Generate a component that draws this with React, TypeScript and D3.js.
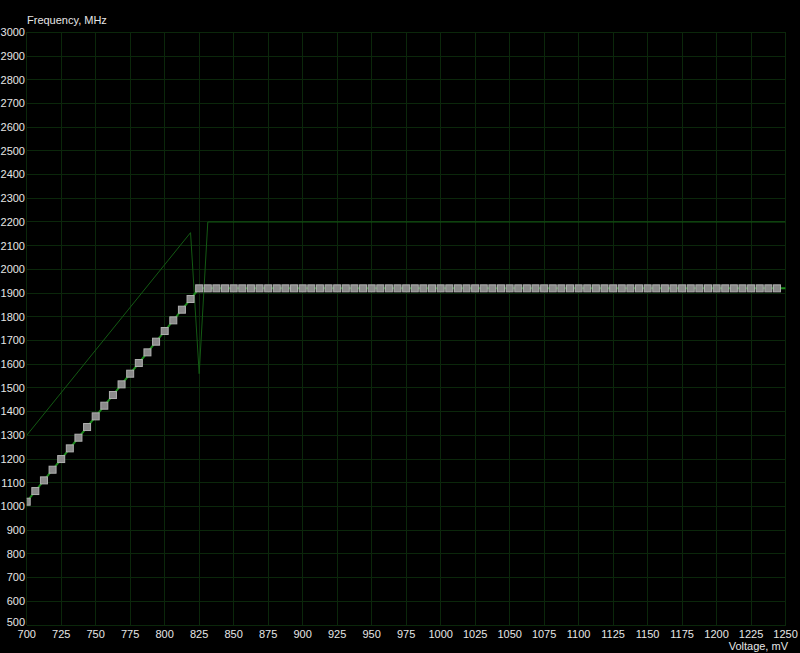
import React from "react";
import * as d3 from "d3";

// Voltage points (mV) of the curve — 6.25 mV steps
const risingVoltages = [700, 706.25, 712.5, 718.75, 725, 731.25, 737.5, 743.75, 750, 756.25, 762.5, 768.75, 775, 781.25, 787.5, 793.75, 800, 806.25, 812.5, 818.75];
const risingFreqs = [1020, 1065, 1110, 1155, 1200, 1245, 1290, 1335, 1380, 1425, 1470, 1515, 1560, 1605, 1650, 1695, 1740, 1785, 1830, 1875];
const flatStart = 825;
const flatEnd = 1243.75;
const flatFreq = 1920;
const lineEnd = 1250;

// Thin reference curve (dark green)
const refVoltages = [700, 818.75, 825, 831.25, 1250];
const refFreqs = [1300, 2155, 1560, 2200, 2200];

const xTicks = [700, 725, 750, 775, 800, 825, 850, 875, 900, 925, 950, 975, 1000, 1025, 1050, 1075, 1100, 1125, 1150, 1175, 1200, 1225, 1250];
const yTicks = [500, 600, 700, 800, 900, 1000, 1100, 1200, 1300, 1400, 1500, 1600, 1700, 1800, 1900, 2000, 2100, 2200, 2300, 2400, 2500, 2600, 2700, 2800, 2900, 3000];

export default function App() {
  const W = 800, H = 653;
  const left = 26.7, right = 785.6, top = 32.3, bottom = 625;
  const x = d3.scaleLinear().domain([700, 1250]).range([left, right]);
  const y = d3.scaleLinear().domain([500, 3000]).range([bottom, top]);

  const flatVoltages: number[] = [];
  for (let v = flatStart; v <= flatEnd + 0.001; v += 6.25) flatVoltages.push(v);

  const pts: [number, number][] = [
    ...risingVoltages.map((v, i) => [v, risingFreqs[i]] as [number, number]),
    ...flatVoltages.map((v) => [v, flatFreq] as [number, number]),
  ];
  const linePts: [number, number][] = [...pts, [lineEnd, flatFreq]];
  const line = d3.line<[number, number]>().x((d) => x(d[0])).y((d) => y(d[1]));
  const refPts = refVoltages.map((v, i) => [v, refFreqs[i]] as [number, number]);

  const font = "'Liberation Sans', Arial, sans-serif";
  const textColor = "#e6e6e6";

  return (
    <svg width={W} height={H} style={{ position: "absolute", left: 0, top: 0, background: "#000" }}>
      <rect x={0} y={0} width={W} height={H} fill="#000" />
      <defs>
        <clipPath id="plot">
          <rect x={left} y={top} width={right - left} height={bottom - top} />
        </clipPath>
      </defs>
      <g stroke="#0b270b" strokeWidth={1} shapeRendering="crispEdges">
        {xTicks.map((t) => (
          <line key={"gx" + t} x1={x(t)} x2={x(t)} y1={top} y2={bottom} />
        ))}
        {yTicks.map((t) => (
          <line key={"gy" + t} x1={left} x2={right} y1={y(t)} y2={y(t)} />
        ))}
      </g>
      <g clipPath="url(#plot)">
        <path d={line(refPts) || ""} fill="none" stroke="#135a13" strokeWidth={1} />
        <path d={line(linePts) || ""} fill="none" stroke="#1c8c1c" strokeWidth={2} />
        {pts.map((p, i) => (
          <rect
            key={i}
            x={x(p[0]) - 3.5}
            y={y(p[1]) - 3.5}
            width={7}
            height={7}
            fill="#8a8a8a"
            stroke="#b0b0b0"
            strokeWidth={1}
          />
        ))}
      </g>
      <g fontFamily={font} fontSize={11} fill={textColor}>
        {yTicks.map((t) => (
          <text key={"yl" + t} x={25} y={y(t) - (t === 500 ? 3 : 0)} dy="0.35em" textAnchor="end">
            {t}
          </text>
        ))}
        {xTicks.map((t) => (
          <text key={"xl" + t} x={x(t)} y={638} textAnchor="middle">
            {t}
          </text>
        ))}
        <text x={27} y={24}>Frequency, MHz</text>
        <text x={788} y={650} textAnchor="end">Voltage, mV</text>
      </g>
    </svg>
  );
}
